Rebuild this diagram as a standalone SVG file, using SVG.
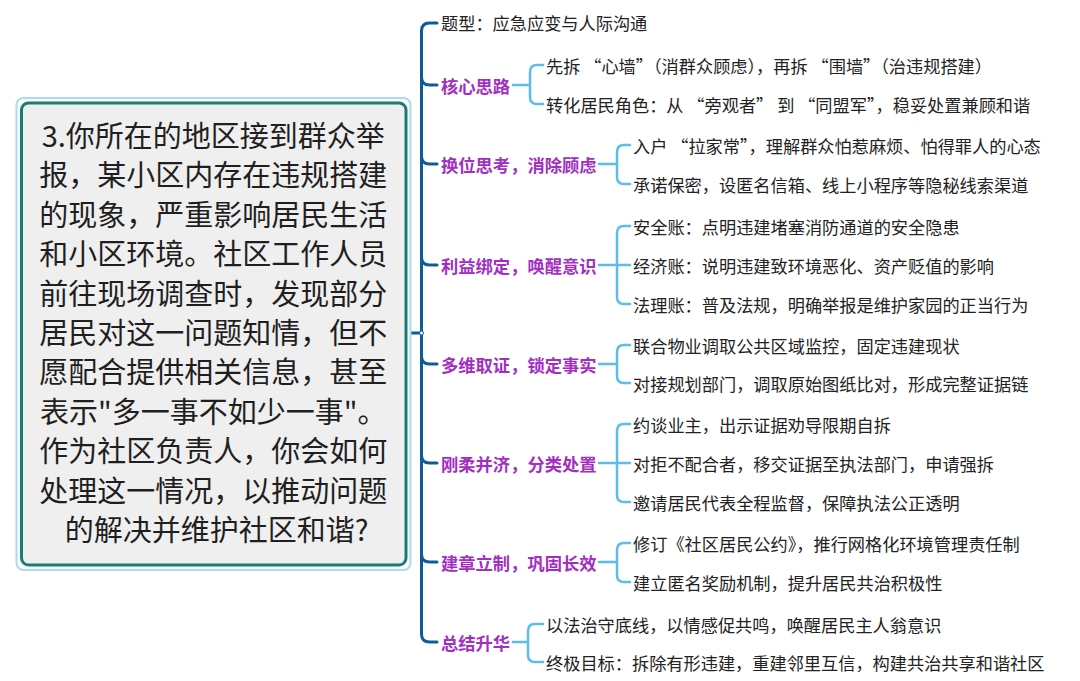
<svg xmlns="http://www.w3.org/2000/svg" width="1080" height="681" viewBox="0 0 1080 681">
<style>
text{font-family:"Noto Sans CJK SC","Noto Sans",sans-serif;}
.q{font-size:29px;fill:#1f1f1f;text-anchor:middle;}
.l1{font-size:17.3px;font-weight:bold;fill:#a22fc2;dominant-baseline:central;}
.t{font-size:17.2px;fill:#222;dominant-baseline:central;}
.sp{fill:none;stroke:#0d5c99;stroke-width:3;stroke-linecap:round;}
.br{fill:none;stroke:#5bbde9;stroke-width:2.5;stroke-linecap:round;}
</style>
<rect width="1080" height="681" fill="#ffffff"/>
<g id="connectors">
<path class="sp" d="M407 333 L421.5 333"/>
<path class="sp" d="M421.5 333 L421.5 31 Q421.5 23 429.5 23 L437 23"/>
<path class="sp" d="M421.5 77 Q421.5 85 429.5 85 L437 85"/>
<path class="sp" d="M421.5 156 Q421.5 164 429.5 164 L437 164"/>
<path class="sp" d="M421.5 257 Q421.5 265 429.5 265 L437 265"/>
<path class="sp" d="M421.5 333 L421.5 634 Q421.5 642 429.5 642 L437 642"/>
<path class="sp" d="M421.5 356 Q421.5 364 429.5 364 L437 364"/>
<path class="sp" d="M421.5 455 Q421.5 463 429.5 463 L437 463"/>
<path class="sp" d="M421.5 554 Q421.5 562 429.5 562 L437 562"/>
<circle cx="421.5" cy="333" r="2" fill="#ffffff" stroke="#0d5c99" stroke-width="1"/>
<path class="br" d="M513 85 L530 85 M543 65 L537 65 Q530 65 530 72 L530 97 Q530 104 537 104 L543 104"/>
<path class="br" d="M599 164 L617 164 M630 145 L624 145 Q617 145 617 152 L617 177 Q617 184 624 184 L630 184"/>
<path class="br" d="M599 265 L630 265 M630 226 L624 226 Q617 226 617 233 L617 297 Q617 304 624 304 L630 304"/>
<path class="br" d="M599 364 L617 364 M630 345 L624 345 Q617 345 617 352 L617 376 Q617 383 624 383 L630 383"/>
<path class="br" d="M599 463 L630 463 M630 424 L624 424 Q617 424 617 431 L617 495 Q617 502 624 502 L630 502"/>
<path class="br" d="M599 562 L617 562 M630 543 L624 543 Q617 543 617 550 L617 575 Q617 582 624 582 L630 582"/>
<path class="br" d="M513 642 L528 642 M543 624 L535 624 Q528 624 528 631 L528 655 Q528 662 535 662 L543 662"/>
</g>
<g id="root">
<rect x="16.5" y="98" width="394" height="472" rx="7" fill="#ffffff" stroke="#a9dcf1" stroke-width="2"/>
<rect x="21.5" y="103" width="384.5" height="462" rx="7" fill="#efefef" stroke="#1b7c70" stroke-width="3"/>
<text class="q">
<tspan x="216.5" y="147">3.你所在的地区接到群众举</tspan>
<tspan x="216.5" y="186.4">报，某小区内存在违规搭建</tspan>
<tspan x="216.5" y="225.8">的现象，严重影响居民生活</tspan>
<tspan x="216.5" y="265.2">和小区环境。社区工作人员</tspan>
<tspan x="216.5" y="304.6">前往现场调查时，发现部分</tspan>
<tspan x="216.5" y="344">居民对这一问题知情，但不</tspan>
<tspan x="216.5" y="383.4">愿配合提供相关信息，甚至</tspan>
<tspan x="216.5" y="422.8">表示"多一事不如少一事"。</tspan>
<tspan x="216.5" y="462.2">作为社区负责人，你会如何</tspan>
<tspan x="216.5" y="501.6">处理这一情况，以推动问题</tspan>
<tspan x="216.5" y="541">的解决并维护社区和谐?</tspan>
</text>
</g>
<g id="type"><text class="t" x="441" y="22">题型：应急应变与人际沟通</text></g>
<g id="core">
<text class="l1" x="441" y="85">核心思路</text>
<text class="t" x="546" y="65">先拆 “心墙”（消群众顾虑），再拆 “围墙”（治违规搭建）</text>
<text class="t" x="546" y="104">转化居民角色：从 “旁观者” 到 “同盟军”，稳妥处置兼顾和谐</text>
</g>
<g id="empathy">
<text class="l1" x="441" y="164">换位思考，消除顾虑</text>
<text class="t" x="633" y="145">入户 “拉家常”，理解群众怕惹麻烦、怕得罪人的心态</text>
<text class="t" x="633" y="184">承诺保密，设匿名信箱、线上小程序等隐秘线索渠道</text>
</g>
<g id="interest">
<text class="l1" x="441" y="265">利益绑定，唤醒意识</text>
<text class="t" x="633" y="226">安全账：点明违建堵塞消防通道的安全隐患</text>
<text class="t" x="633" y="265">经济账：说明违建致环境恶化、资产贬值的影响</text>
<text class="t" x="633" y="304">法理账：普及法规，明确举报是维护家园的正当行为</text>
</g>
<g id="evidence">
<text class="l1" x="441" y="364">多维取证，锁定事实</text>
<text class="t" x="633" y="345">联合物业调取公共区域监控，固定违建现状</text>
<text class="t" x="633" y="383">对接规划部门，调取原始图纸比对，形成完整证据链</text>
</g>
<g id="handle">
<text class="l1" x="441" y="463">刚柔并济，分类处置</text>
<text class="t" x="633" y="424">约谈业主，出示证据劝导限期自拆</text>
<text class="t" x="633" y="463">对拒不配合者，移交证据至执法部门，申请强拆</text>
<text class="t" x="633" y="502">邀请居民代表全程监督，保障执法公正透明</text>
</g>
<g id="system">
<text class="l1" x="441" y="562">建章立制，巩固长效</text>
<text class="t" x="633" y="543">修订《社区居民公约》，推行网格化环境管理责任制</text>
<text class="t" x="633" y="582">建立匿名奖励机制，提升居民共治积极性</text>
</g>
<g id="summary">
<text class="l1" x="441" y="642">总结升华</text>
<text class="t" x="546" y="624">以法治守底线，以情感促共鸣，唤醒居民主人翁意识</text>
<text class="t" x="546" y="662">终极目标：拆除有形违建，重建邻里互信，构建共治共享和谐社区</text>
</g>
</svg>
